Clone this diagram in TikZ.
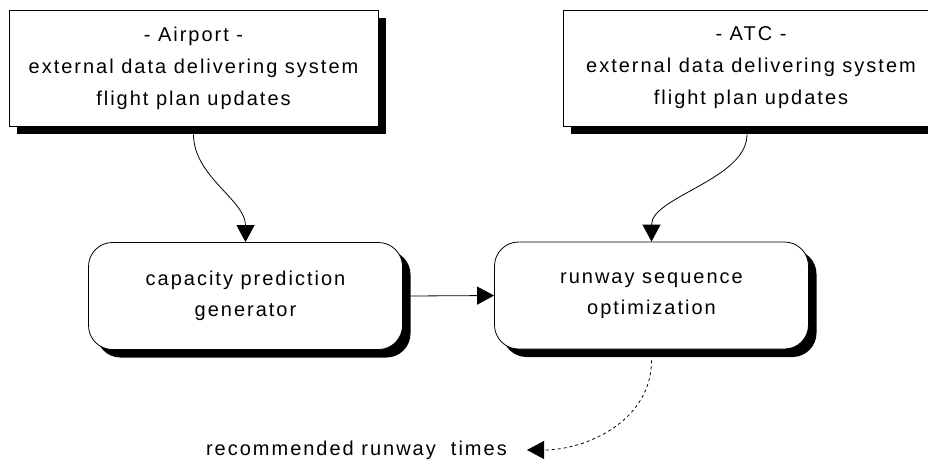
\documentclass[tikz,border=0pt]{standalone}
\usepackage{fontspec}
\setmainfont{Liberation Sans}[LetterSpace=10]
\usetikzlibrary{arrows.meta,shadows}

\begin{document}
\begin{tikzpicture}[
  x={(1pt,0pt)},
  y={(0pt,-1pt)},
  every node/.style={font=\fontsize{20}{32}\selectfont, align=center},
  shadowed/.style={
    draw, fill=white, line width=0.8pt,
    drop shadow={shadow xshift=8pt, shadow yshift=-8pt, fill=black, opacity=1}
  },
  sourcebox/.style={shadowed, minimum height=116pt},
  taskbox/.style={shadowed, rounded corners=24pt, minimum width=314pt, minimum height=107pt,
    font=\fontsize{20}{31}\selectfont},
  flow/.style={line width=0.8pt, -{Triangle[length=17pt,width=18pt]}}
]
\clip (0,0) rectangle (928,463);

\node[sourcebox, minimum width=369pt] (airport) at (193.5,68)
  {- Airport -\\external data delivering system\\flight plan updates};
\node[sourcebox, minimum width=376pt] (atc) at (751,68)
  {- ATC -\\external data delivering system\\flight plan updates};

\node[taskbox] (capacity) at (245.5,296) {capacity prediction\\generator};
\node[taskbox] (runway) at (651.5,295.5) {runway sequence\\optimization};

\node[anchor=east, inner sep=0pt] (times) at (507,450) {recommended runway\ \ times};

\draw[flow] ([yshift=-8pt]airport.south) to[out=-90, in=90, looseness=0.9] (capacity.north);
\draw[flow] ([xshift=-4pt, yshift=-8pt]atc.south) to[out=-90, in=90, looseness=0.8] (runway.north);
\draw[flow] ([xshift=8pt]capacity.east) -- (runway.west);
\draw[flow, dashed] ([yshift=-11pt]runway.south) to[out=-90, in=0] ([xshift=20pt]times.east);
\end{tikzpicture}
\end{document}
